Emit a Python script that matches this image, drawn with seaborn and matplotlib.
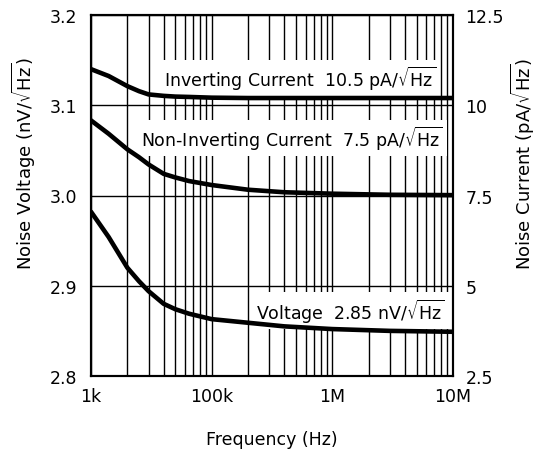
import numpy as np
import pandas as pd
import matplotlib
matplotlib.use("Agg")
import matplotlib.pyplot as plt
import matplotlib.ticker as mticker
import seaborn as sns

# values
FREQ_HZ = [1e4, 1.4e4, 2e4, 2.5e4, 3e4, 4e4, 5e4, 6.5e4, 1e5, 2e5, 4e5, 1e6, 3e6, 1e7]
VOLTAGE_NV = [2.982, 2.954, 2.920, 2.905, 2.894, 2.880, 2.874, 2.869, 2.863,
              2.859, 2.855, 2.852, 2.850, 2.849]
INV_CURRENT_PA = [11.00, 10.81, 10.53, 10.39, 10.30, 10.26, 10.24, 10.23, 10.21,
                  10.20, 10.20, 10.20, 10.20, 10.20]
NONINV_CURRENT_PA = [9.58, 9.21, 8.78, 8.56, 8.36, 8.10, 8.00, 7.90, 7.79,
                     7.66, 7.59, 7.55, 7.52, 7.51]

XTICKS = [1e4, 1e5, 1e6, 1e7]
XTICK_LABELS = ["1k", "100k", "1M", "10M"]
VTICKS = [2.8, 2.9, 3.0, 3.1, 3.2]
VTICK_LABELS = ["2.8", "2.9", "3.0", "3.1", "3.2"]
ITICKS = [2.5, 5, 7.5, 10, 12.5]
ITICK_LABELS = ["2.5", "5", "7.5", "10", "12.5"]

SQ = r"$\sqrt{\mathrm{Hz}}$"

sns.set_theme(style="white")
plt.rcParams["font.family"] = ["DejaVu Sans"]
plt.rcParams["mathtext.fontset"] = "dejavusans"
plt.rcParams["text.color"] = "black"
plt.rcParams["axes.labelcolor"] = "black"

df = pd.DataFrame({
    "freq": FREQ_HZ,
    "voltage": VOLTAGE_NV,
    "inv": INV_CURRENT_PA,
    "noninv": NONINV_CURRENT_PA,
})

fig = plt.figure(figsize=(5.43, 4.64), dpi=100)
ax = fig.add_axes([91 / 543, 87 / 464, 362 / 543, 361 / 464])
ax2 = ax.twinx()

sns.lineplot(data=df, x="freq", y="voltage", ax=ax, color="black", lw=3.3, zorder=5)
sns.lineplot(data=df, x="freq", y="inv", ax=ax2, color="black", lw=3.3, zorder=5)
sns.lineplot(data=df, x="freq", y="noninv", ax=ax2, color="black", lw=3.3, zorder=5)

ax.set_xscale("log")
ax.set_xlim(1e4, 1e7)
ax.set_xticks(XTICKS)
ax.set_xticklabels(XTICK_LABELS)
ax.xaxis.set_minor_locator(mticker.LogLocator(base=10, subs=np.arange(2, 10)))
ax.xaxis.set_minor_formatter(mticker.NullFormatter())

ax.set_ylim(2.8, 3.2)
ax.set_yticks(VTICKS)
ax.set_yticklabels(VTICK_LABELS)
ax2.set_ylim(2.5, 12.5)
ax2.set_yticks(ITICKS)
ax2.set_yticklabels(ITICK_LABELS)

ax.grid(which="both", axis="x", color="black", lw=1.0)
ax.grid(which="major", axis="y", color="black", lw=1.0)
ax.set_axisbelow(True)

ax.tick_params(axis="x", which="both", length=0, pad=8, labelsize=12.5, colors="black")
ax.tick_params(axis="y", length=0, pad=10, labelsize=12.5, colors="black")
ax2.tick_params(axis="y", length=0, pad=9, labelsize=12.5, colors="black")

for a in (ax, ax2):
    for s in a.spines.values():
        s.set_color("black")
        s.set_linewidth(1.5)

ax.set_xlabel("Frequency (Hz)", fontsize=12.5)
ax.xaxis.set_label_coords(0.5, -0.15)
ax.set_ylabel("Noise Voltage (nV/" + SQ + ")", fontsize=13, va="center")
ax.yaxis.set_label_coords(-0.185, 0.59)
ax2.set_ylabel("Noise Current (pA/" + SQ + ")", fontsize=13, va="center")
ax2.yaxis.set_label_coords(1.193, 0.59)

box = dict(facecolor="white", edgecolor="none", pad=3)
ax2.text(0.953, 0.825, "Inverting Current  10.5 pA/" + SQ, transform=ax.transAxes,
         ha="right", va="center", fontsize=12.5, bbox=box, zorder=3)
ax2.text(0.972, 0.659, "Non-Inverting Current  7.5 pA/" + SQ, transform=ax.transAxes,
         ha="right", va="center", fontsize=12.5, bbox=box, zorder=3)
ax.text(0.978, 0.181, "Voltage  2.85 nV/" + SQ, transform=ax.transAxes,
        ha="right", va="center", fontsize=12.5, bbox=box, zorder=3)

fig.savefig("out.png", dpi=100, facecolor="white")
